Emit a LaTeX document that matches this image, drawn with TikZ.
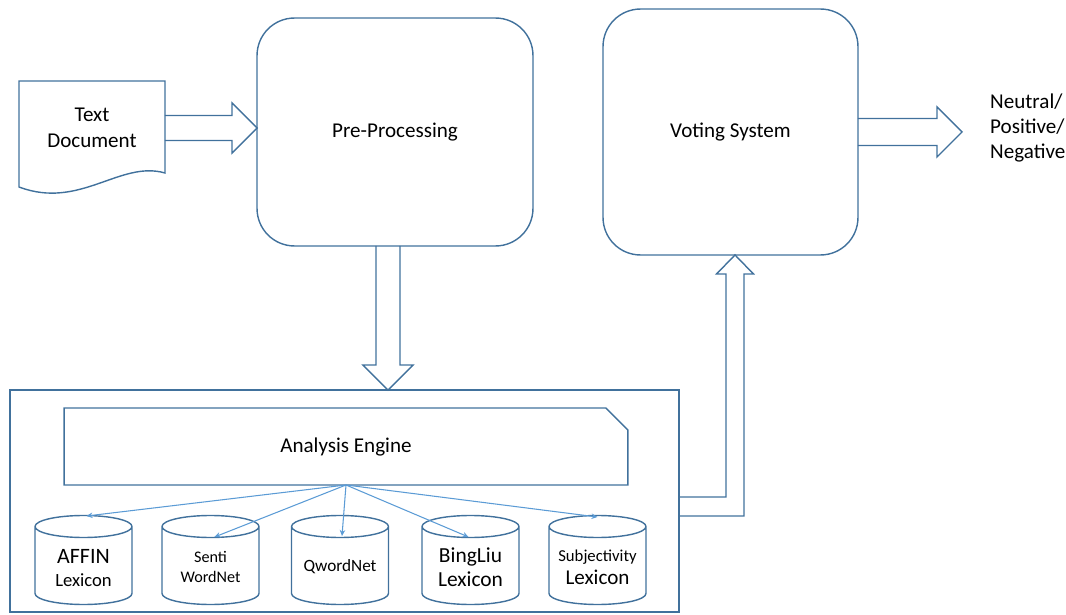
\documentclass[tikz,border=0pt]{standalone}
\usepackage{fontspec}
\setmainfont{Carlito}
\usetikzlibrary{shapes.misc,arrows.meta,calc}
\definecolor{lineBlue}{RGB}{65,113,156}
\definecolor{arrowBlue}{RGB}{91,155,213}

\begin{document}
\begin{tikzpicture}[x=0.02cm, y=-0.02cm]
\tikzstyle{outline} = [draw=lineBlue, line width=0.8pt, line join=miter]
\tikzstyle{roundBox} = [outline, rectangle, rounded corners=0.75cm, inner sep=0pt, outer sep=0pt, font=\fontsize{12}{14.5}\selectfont]
\tikzstyle{lexicon} = [inner sep=0pt, align=center]
\tikzstyle{thinArrow} = [draw=arrowBlue, line width=0.6pt, -{Stealth[length=1.2mm, width=1.1mm]}]
\useasboundingbox (0,0) rectangle (1066,615);

% boxes
\node (Doc) at (92,128) [minimum width=2.92cm, inner sep=0pt, outer sep=0pt, align=center, font=\fontsize{12}{14.5}\selectfont] {Text\\Document};
\draw[outline] (19,81) -- (165,81) -- (165,173) .. controls (120,160) and (80,210) .. (19,187) -- cycle;
\node (Pre) at (395,132) [roundBox, minimum width=5.52cm, minimum height=4.56cm] {Pre-Processing};
\node (Voting) at (730.5,132) [roundBox, minimum width=5.1cm, minimum height=4.92cm] {Voting System};
\node (Out) at (984,128) [anchor=west, align=left, font=\fontsize{12}{14.5}\selectfont] {Neutral/\\Positive/\\Negative};
\node (Lower) at (344.5,501) [outline, rectangle, minimum width=13.38cm, minimum height=4.44cm, inner sep=0pt, outer sep=0pt] {};
\node (Engine) at (346,446.5) [outline, chamfered rectangle, chamfered rectangle corners=north east, chamfered rectangle xsep=0.26cm, chamfered rectangle ysep=0.26cm, minimum width=11.28cm, minimum height=1.54cm, inner sep=0pt, outer sep=0pt, font=\fontsize{12}{14.5}\selectfont] {Analysis Engine};

% lexicons
\node (Lex1) at (83.5,568) [lexicon, font=\fontsize{12.5}{13}\selectfont] {AFFIN\\\fontsize{10.6}{13}\selectfont Lexicon};
\node (Lex2) at (210.5,567) [lexicon, font=\fontsize{9.2}{11}\selectfont] {Senti\\WordNet};
\node (Lex3) at (340,567) [lexicon, font=\fontsize{9.8}{11}\selectfont] {QwordNet};
\node (Lex4) at (470.5,567) [lexicon, font=\fontsize{12.2}{14}\selectfont] {BingLiu\\Lexicon};
\node (Lex5) at (597.5,567) [lexicon, font=\fontsize{9.5}{13}\selectfont] {Subjectivity\\\fontsize{12}{13}\selectfont Lexicon};
\foreach \n/\y in {1/-0.5,2/0.5,3/0.5,4/0.5,5/0.5} {
  \draw[outline] ($(Lex\n.center)+(-48.5,-41+\y)$) -- ($(Lex\n.center)+(-48.5,26+\y)$) arc (180:360:0.97cm and 0.22cm)
    -- ($(Lex\n.center)+(48.5,-41+\y)$) arc (0:180:0.97cm and 0.22cm) arc (180:360:0.97cm and 0.22cm);
}

\draw[thinArrow] (Engine.south) -- ($(Lex1.center)+(3,-52)$);
\draw[thinArrow] (Engine.south) -- ($(Lex2.center)+(4,-30)$);
\draw[thinArrow] (Engine.south) -- ($(Lex3.center)+(2,-31)$);
\draw[thinArrow] (Engine.south) -- ($(Lex4.center)+(-2,-30)$);
\draw[thinArrow] (Engine.south) -- ($(Lex5.center)+(0,-50)$);

% block arrows
\coordinate (T1) at (Doc.east -| Pre.west);
\draw[outline] ($(Doc.east)+(0,-12.5)$) -- ($(T1)+(-25,-12.5)$) -- ($(T1)+(-25,-25)$) -- (T1) -- ($(T1)+(-25,25)$) -- ($(T1)+(-25,12.5)$) -- ($(Doc.east)+(0,12.5)$);
\coordinate (S2) at ($(Pre.south)+(-7,0)$);
\coordinate (T2) at (S2 |- Lower.north);
\draw[outline] ($(S2)+(-12,0)$) -- ($(T2)+(-12,-25)$) -- ($(T2)+(-25,-25)$) -- (T2) -- ($(T2)+(25,-25)$) -- ($(T2)+(12,-25)$) -- ($(S2)+(12,0)$);
\coordinate (T3) at ($(Voting.south)+(4.5,0)$);
\coordinate (B3) at (T3 |- Lower.east);
\draw[outline] ($(Lower.east)+(0,-4)$) -- ($(B3)+(-9,-4)$) -- ($(T3)+(-9,19)$) -- ($(T3)+(-18.5,19)$) -- (T3) -- ($(T3)+(18.5,19)$) -- ($(T3)+(9,19)$) -- ($(B3)+(9,15)$) -- ($(Lower.east)+(0,15)$);
\coordinate (T4) at ($(Voting.east -| Out.west)+(-22,0)$);
\draw[outline] ($(Voting.east)+(0,-13.5)$) -- ($(T4)+(-25,-13.5)$) -- ($(T4)+(-25,-25)$) -- (T4) -- ($(T4)+(-25,25)$) -- ($(T4)+(-25,13.5)$) -- ($(Voting.east)+(0,13.5)$);
\end{tikzpicture}
\end{document}
